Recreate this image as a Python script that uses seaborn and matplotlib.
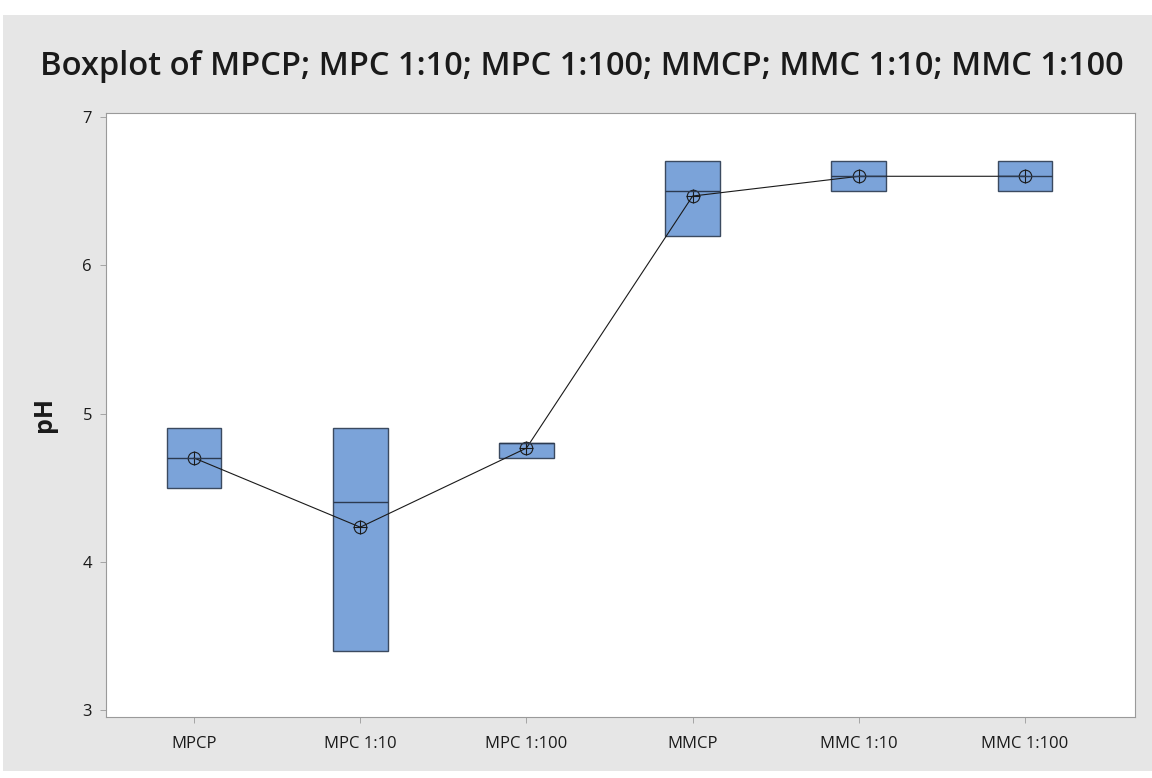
import numpy as np
import pandas as pd
import matplotlib.pyplot as plt
import matplotlib.patches as mpatches
import seaborn as sns

# pH readings per sample (3 per group)
groups = ['MPCP', 'MPC 1:10', 'MPC 1:100', 'MMCP', 'MMC 1:10', 'MMC 1:100']
mpcp = [4.5, 4.7, 4.9]
mpc_10 = [3.4, 4.4, 4.9]
mpc_100 = [4.7, 4.8, 4.8]
mmcp = [6.2, 6.5, 6.7]
mmc_10 = [6.5, 6.6, 6.7]
mmc_100 = [6.5, 6.6, 6.7]
values = [mpcp, mpc_10, mpc_100, mmcp, mmc_10, mmc_100]

df = pd.DataFrame({'grupo': np.repeat(groups, 3), 'pH': np.concatenate(values)})
df['grupo'] = pd.Categorical(df['grupo'], categories=groups, ordered=True)

sns.set_theme(style='white')
plt.rcParams['font.family'] = ['Open Sans', 'DejaVu Sans']

fig = plt.figure(figsize=(11.52, 7.78), dpi=100, facecolor='white')
fig.patches.append(mpatches.Rectangle((0.003, 0.009), 0.997, 0.972, transform=fig.transFigure,
                                      facecolor='#e6e6e6', edgecolor='none', zorder=-10))
ax = fig.add_axes([0.092, 0.0784, 0.893, 0.7764])
ax.set_facecolor('white')


# quartis pelo método do Minitab: posições (n+1)/4 e 3(n+1)/4
def quartil(v, p):
    v = np.sort(v)
    pos = p * (len(v) + 1) - 1
    lo = int(np.floor(pos))
    lo = min(max(lo, 0), len(v) - 1)
    hi = min(lo + 1, len(v) - 1)
    return v[lo] + (pos - lo) * (v[hi] - v[lo])


stats = []
for g in groups:
    v = df.loc[df['grupo'] == g, 'pH'].values
    q1, q3 = quartil(v, 0.25), quartil(v, 0.75)
    stats.append({'med': np.median(v), 'q1': q1, 'q3': q3, 'whislo': q1, 'whishi': q3,
                  'fliers': [], 'label': g})

ax.bxp(stats, positions=range(len(groups)), widths=0.33, patch_artist=True, showcaps=False,
       manage_ticks=False,
       boxprops=dict(facecolor='#7ba3d9', edgecolor='#3b4a60', linewidth=1.0),
       medianprops=dict(color='#2c3a50', linewidth=1.0),
       whiskerprops=dict(linewidth=0))

# linha das médias
sns.pointplot(data=df, x='grupo', y='pH', estimator='mean', errorbar=None, color='#1a1a1a',
              markers='o', markersize=9, linewidth=0.8, mfc='none', mew=0.8, ax=ax)
sns.pointplot(data=df, x='grupo', y='pH', estimator='mean', errorbar=None, color='#1a1a1a',
              markers='+', markersize=10, linestyle='none', mew=0.8, ax=ax)

ax.set_xlim(-0.53, 5.66)
ax.set_ylim(2.953, 7.027)
ax.set_yticks([3, 4, 5, 6, 7])
ax.set_xticks(range(len(groups)))
ax.set_xticklabels(groups)
ax.tick_params(axis='both', which='major', labelsize=12, length=4, width=0.6,
               color='#9a9a9a', labelcolor='#1a1a1a', bottom=True, left=True, direction='out')
ax.tick_params(axis='x', pad=10)
ax.tick_params(axis='y', pad=6)
for lbl in ax.get_xticklabels() + ax.get_yticklabels():
    lbl.set_fontweight('medium')
for s in ax.spines.values():
    s.set_color('#9a9a9a')
    s.set_linewidth(0.8)

ax.set_xlabel('')
ax.set_ylabel('pH', fontsize=18, fontweight='bold', color='#1a1a1a', labelpad=18)
fig.text(0.505, 0.915, 'Boxplot of MPCP; MPC 1:10; MPC 1:100; MMCP; MMC 1:10; MMC 1:100',
         ha='center', va='center', fontsize=23.5, fontweight='semibold', color='#1a1a1a')

plt.savefig('out.png', dpi=100, facecolor=fig.get_facecolor())
